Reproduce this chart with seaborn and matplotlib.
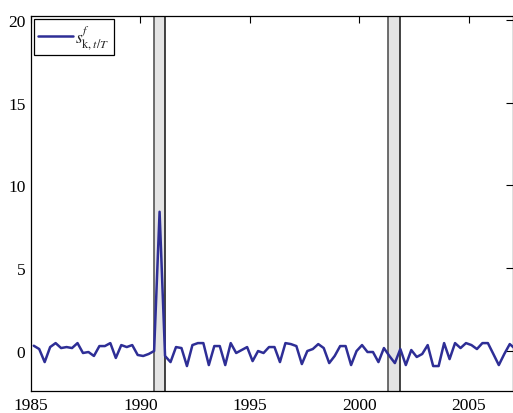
import numpy as np
import pandas as pd
import matplotlib
matplotlib.use("Agg")
import matplotlib.pyplot as plt
import seaborn as sns

# Quarterly observations (dated mid-quarter), 1985Q1 .. 2007Q1
dates = [1985.125 + 0.25 * k for k in range(89)]
values = [0.29, 0.09, -0.70, 0.21, 0.45, 0.15, 0.21, 0.15, 0.45, -0.15,
          -0.09, -0.33, 0.27, 0.27, 0.45, -0.45, 0.33, 0.21, 0.33, -0.27,
          -0.33, -0.21, -0.03, 8.40, -0.33, -0.70, 0.21, 0.15, -0.94, 0.33,
          0.45, 0.45, -0.88, 0.27, 0.27, -0.88, 0.45, -0.15, 0.03, 0.21,
          -0.64, -0.03, -0.15, 0.21, 0.21, -0.70, 0.45, 0.39, 0.27, -0.82,
          -0.03, 0.09, 0.39, 0.15, -0.76, -0.33, 0.27, 0.27, -0.88, -0.03,
          0.33, -0.09, -0.09, -0.70, 0.15, -0.33, -0.76, 0.09, -0.88, 0.03,
          -0.39, -0.21, 0.33, -0.94, -0.94, 0.45, -0.52, 0.45, 0.15, 0.45,
          0.33, 0.09, 0.45, 0.45, -0.21, -0.88, -0.21, 0.39, 0.10]
recessions = [(1990.6, 1991.1), (2001.3, 2001.88)]
xticks = [1985, 1990, 1995, 2000, 2005]
yticks = [0, 5, 10, 15, 20]
label = r'$s^{f}_{\mathrm{k},t/T}$'

df = pd.DataFrame({"date": dates, "value": values})

sns.set_theme(style="white")
plt.rcParams['font.family'] = ['Liberation Serif', 'DejaVu Serif']
plt.rcParams['mathtext.fontset'] = 'stix'

fig = plt.figure(figsize=(5.13, 4.14), dpi=100)
ax = fig.add_axes([31 / 513, 1 - 392 / 414, 481.5 / 513, 375 / 414])

for a, b in recessions:
    ax.axvspan(a, b, facecolor='#e4e4e4', edgecolor='none', zorder=1)
    ax.axvline(a, color='#555555', lw=1.2, zorder=1.5)
    ax.axvline(b, color='#222222', lw=1.2, zorder=1.5)

sns.lineplot(data=df, x="date", y="value", ax=ax, color='#2e2e96', lw=1.8,
             label=label, zorder=3)

ax.set_xlim(1985, 2007)
ax.set_ylim(-2.45, 20.25)
ax.set_xticks(xticks)
ax.set_yticks(yticks)
ax.set_xlabel("")
ax.set_ylabel("")
ax.tick_params(direction='in', top=True, right=True, length=5, width=0.8,
               labelsize=12.5, colors='black', pad=4)
for s in ax.spines.values():
    s.set_color('black')
    s.set_linewidth(0.9)

leg = ax.legend(loc='upper left', fancybox=False, frameon=True, fontsize=12.5,
                handlelength=2.0, borderaxespad=0.15, borderpad=0.25,
                handletextpad=0.15)
leg.get_frame().set_edgecolor('black')
leg.get_frame().set_linewidth(0.9)
leg.get_frame().set_alpha(1)

fig.savefig("out.png", dpi=100)
